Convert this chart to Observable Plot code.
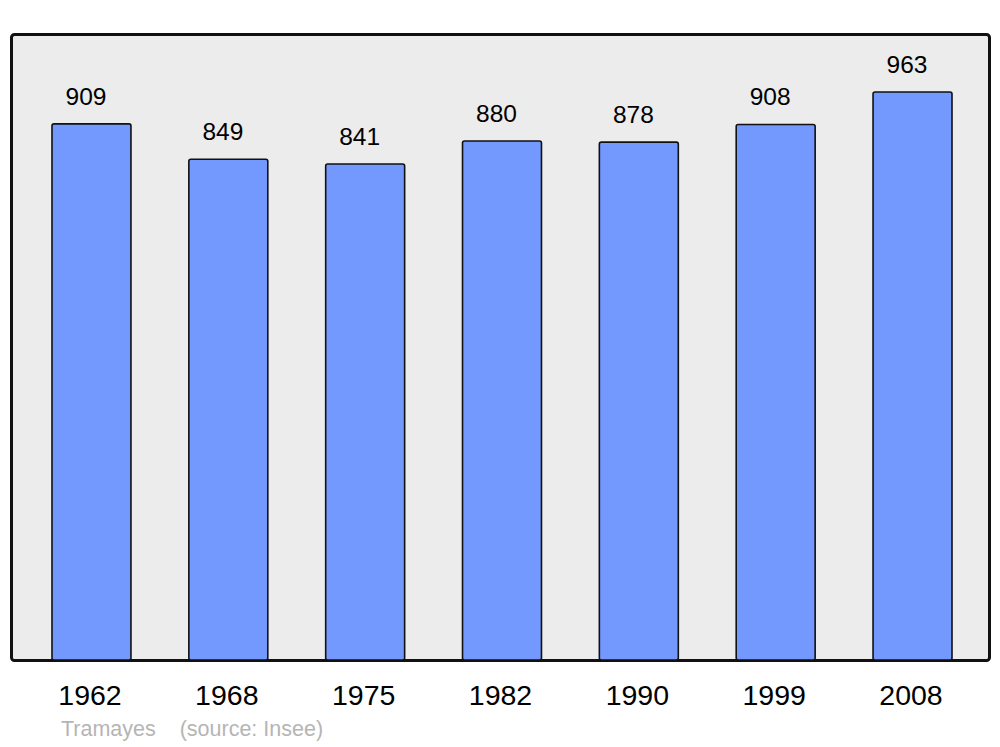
<!DOCTYPE html>
<html>
<head>
<meta charset="utf-8">
<script src="https://cdn.jsdelivr.net/npm/d3@7"></script>
<script src="https://cdn.jsdelivr.net/npm/@observablehq/plot@0.6"></script>
<style>
  html, body { margin: 0; padding: 0; background: #fff; }
  body { width: 1000px; height: 747px; overflow: hidden; font-family: "Liberation Sans", Arial, sans-serif; }
  #chart svg { display: block; }
  #caption { position: absolute; left: 61px; top: 717px; font-size: 21.5px; line-height: 25px; color: #b5b5b5; white-space: pre; font-family: "Liberation Sans", Arial, sans-serif; }
</style>
</head>
<body>
<div id="chart"></div>
<div id="caption"></div>
<script>
const years = ["1962", "1968", "1975", "1982", "1990", "1999", "2008"];
const population = [909, 849, 841, 880, 878, 908, 963];
const place = "Tramayes";
const source = "(source: Insee)";

const data = years.map((y, i) => ({year: y, value: population[i]}));

const plot = Plot.plot({
  width: 1000,
  height: 712,
  marginLeft: 52,
  marginRight: 48,
  marginTop: 34,
  marginBottom: 52,
  style: {fontFamily: "'Liberation Sans', Arial, sans-serif", background: "transparent", overflow: "visible"},
  x: {domain: years, paddingInner: 0.423, paddingOuter: 0, round: false, label: null},
  y: {domain: [0, 1061.4], axis: null},
  marks: [
    Plot.frame({insetLeft: -41, insetRight: -37, fill: "#ececec", stroke: "#111", strokeWidth: 3, rx: 3}),
    Plot.barY(data, {x: "year", y: "value", fill: "#7399ff", stroke: "#111", strokeWidth: 1.6, rx: 2}),
    Plot.text(data, {x: "year", y: "value", text: d => String(d.value), dx: -6, dy: -19.5, lineAnchor: "bottom", fontSize: 24.5, fill: "#000"}),
    Plot.axisX({tickSize: 0, tickPadding: 24, dx: -2, fontSize: 28.5, fill: "#000", label: null})
  ]
});
document.getElementById("chart").appendChild(plot);
document.getElementById("caption").textContent = place + "    " + source;
</script>
</body>
</html>
